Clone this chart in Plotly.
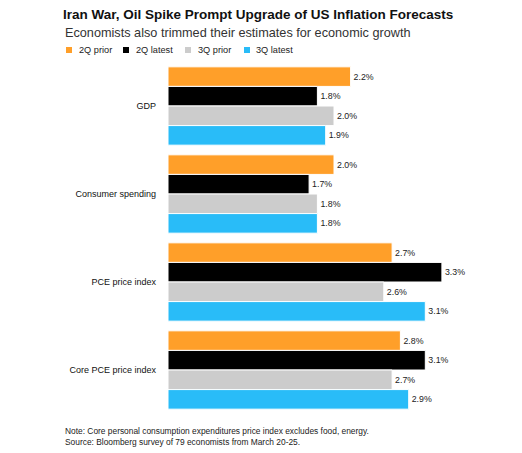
import plotly.graph_objects as go

categories = ["GDP", "Consumer spending", "PCE price index", "Core PCE price index"]
series_names = ["2Q prior", "2Q latest", "3Q prior", "3Q latest"]
q2_prior = [2.2, 2.0, 2.7, 2.8]
q2_latest = [1.8, 1.7, 3.3, 3.1]
q3_prior = [2.0, 1.8, 2.6, 2.7]
q3_latest = [1.9, 1.8, 3.1, 2.9]
colors = ["#FF9F29", "#000000", "#CCCCCC", "#29BCF8"]

# page body has an 8px margin, so the figure sits at (8, 8)
OFF = 8
W, H = 522 - OFF, 453 - OFF
L, R, T, B = 168 - OFF, 22, 62 - OFF, 39
pw, ph = W - L - R, H - T - B

# page pixel -> paper coords for the header / footer
def px(x):
    return (x - OFF - L) / pw

def py(y):
    return 1 - (y - OFF - T) / ph

fig = go.Figure()
for name, vals, c in zip(series_names, [q2_prior, q2_latest, q3_prior, q3_latest], colors):
    fig.add_trace(go.Bar(
        y=categories, x=vals, name=name, orientation="h",
        marker=dict(color=c, line=dict(color="white", width=1)),
        text=[f"{v:.1f}%" for v in vals], textposition="outside",
        textfont=dict(size=8.8, color="#222"), cliponaxis=False,
    ))

# legend drawn by hand, small squares like the original
legend_sq = [66, 123, 185, 244]
legend_txt = [78, 135, 197, 255]
shapes = []
annotations = []
for name, c, xs, xt in zip(series_names, colors, legend_sq, legend_txt):
    shapes.append(dict(type="rect", xref="paper", yref="paper",
                       x0=px(xs), x1=px(xs + 6), y0=py(53), y1=py(47),
                       fillcolor=c, line=dict(width=0)))
    annotations.append(dict(text=name, xref="paper", yref="paper",
                            x=px(xt - 1), y=py(50), xanchor="left", yanchor="middle",
                            showarrow=False, font=dict(size=9.2, color="#222")))

annotations += [
    dict(text="Economists also trimmed their estimates for economic growth",
         xref="paper", yref="paper", x=px(63), y=py(33),
         xanchor="left", yanchor="middle", showarrow=False,
         font=dict(size=12.7, color="#333")),
    dict(text="Note: Core personal consumption expenditures price index excludes food, energy.<br>"
              "Source: Bloomberg survey of 79 economists from March 20-25.",
         xref="paper", yref="paper", x=px(63), y=py(436),
         xanchor="left", yanchor="middle", align="left", showarrow=False,
         font=dict(size=8.4, color="#222")),
]

fig.update_layout(
    width=W, height=H,
    barmode="group", bargap=0.11, bargroupgap=0,
    plot_bgcolor="white", paper_bgcolor="white",
    font=dict(family="Liberation Sans, Arial, sans-serif", color="#111"),
    margin=dict(l=L, r=R, t=T, b=B),
    showlegend=False,
    title=dict(text="<b>Iran War, Oil Spike Prompt Upgrade of US Inflation Forecasts</b>",
               x=(63 - OFF)/W, xref="container", xanchor="left",
               y=1 - (14 - OFF)/H, yref="container", yanchor="middle",
               font=dict(size=13.5, color="#111")),
    xaxis=dict(range=[0, pw / 83], visible=False),
    yaxis=dict(autorange="reversed", showgrid=False, ticks="", automargin=False,
               tickfont=dict(size=9, color="#111"), ticklabelstandoff=11),
    shapes=shapes,
    annotations=annotations,
)

fig.write_html("out.html")
